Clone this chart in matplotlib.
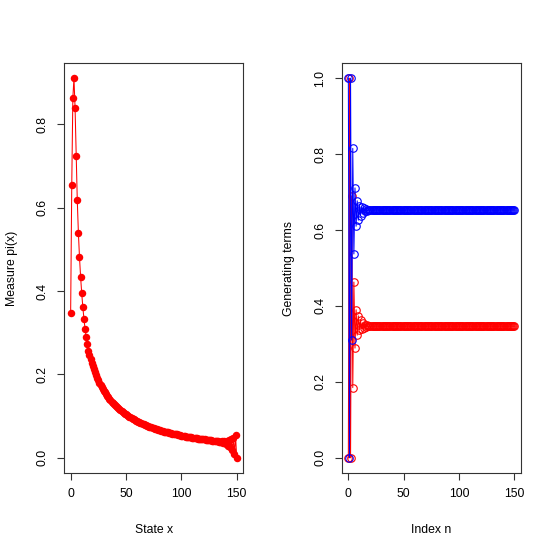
import numpy as np
import matplotlib
matplotlib.use("Agg")
import matplotlib.pyplot as plt

plt.rcParams['font.family'] = ['Liberation Sans', 'DejaVu Sans']

# left panel: measure pi(x) for states 0..150
state = list(range(0, 151))
measure = [
    0.347, 0.654, 0.864, 0.911, 0.840, 0.724, 0.618, 0.540, 0.481, 0.434,
    0.395, 0.362, 0.334, 0.310, 0.290, 0.272, 0.257, 0.247, 0.237, 0.228,
    0.220, 0.212, 0.205, 0.198, 0.192, 0.186, 0.180, 0.175, 0.170, 0.165,
    0.161, 0.157, 0.153, 0.149, 0.145, 0.142, 0.138, 0.135, 0.132, 0.129,
    0.126, 0.124, 0.121, 0.119, 0.116, 0.114, 0.112, 0.110, 0.108, 0.106,
    0.104, 0.102, 0.100, 0.098, 0.097, 0.095, 0.093, 0.092, 0.090, 0.089,
    0.088, 0.086, 0.085, 0.084, 0.083, 0.081, 0.080, 0.079, 0.078, 0.077,
    0.076, 0.075, 0.074, 0.073, 0.072, 0.071, 0.070, 0.069, 0.068, 0.067,
    0.067, 0.066, 0.065, 0.064, 0.063, 0.063, 0.062, 0.061, 0.061, 0.060,
    0.059, 0.059, 0.058, 0.057, 0.057, 0.056, 0.056, 0.055, 0.054, 0.054,
    0.053, 0.053, 0.052, 0.052, 0.051, 0.051, 0.050, 0.050, 0.049, 0.049,
    0.048, 0.048, 0.048, 0.047, 0.047, 0.046, 0.046, 0.045, 0.045, 0.045,
    0.044, 0.044, 0.043, 0.043, 0.043, 0.042, 0.042, 0.042, 0.041, 0.041,
    0.041, 0.040, 0.040, 0.040, 0.039, 0.039, 0.038, 0.040, 0.036, 0.040,
    0.033, 0.041, 0.029, 0.042, 0.025, 0.044, 0.018, 0.048, 0.009, 0.054,
    0.000,
]

# right panel: generating terms, index 0..150
index_n = list(range(0, 151))
terms_blue = [
    1.000, 0.000, 1.000, 0.310, 0.815, 0.537, 0.711, 0.610, 0.677, 0.626,
    0.663, 0.638, 0.660, 0.645, 0.657, 0.649, 0.655, 0.651, 0.654, 0.652,
    0.654, 0.653, 0.653, 0.653, 0.653, 0.653, 0.653, 0.653, 0.653, 0.653,
    0.653, 0.653, 0.653, 0.653, 0.653, 0.653, 0.653, 0.653, 0.653, 0.653,
    0.653, 0.653, 0.653, 0.653, 0.653, 0.653, 0.653, 0.653, 0.653, 0.653,
    0.653, 0.653, 0.653, 0.653, 0.653, 0.653, 0.653, 0.653, 0.653, 0.653,
    0.653, 0.653, 0.653, 0.653, 0.653, 0.653, 0.653, 0.653, 0.653, 0.653,
    0.653, 0.653, 0.653, 0.653, 0.653, 0.653, 0.653, 0.653, 0.653, 0.653,
    0.653, 0.653, 0.653, 0.653, 0.653, 0.653, 0.653, 0.653, 0.653, 0.653,
    0.653, 0.653, 0.653, 0.653, 0.653, 0.653, 0.653, 0.653, 0.653, 0.653,
    0.653, 0.653, 0.653, 0.653, 0.653, 0.653, 0.653, 0.653, 0.653, 0.653,
    0.653, 0.653, 0.653, 0.653, 0.653, 0.653, 0.653, 0.653, 0.653, 0.653,
    0.653, 0.653, 0.653, 0.653, 0.653, 0.653, 0.653, 0.653, 0.653, 0.653,
    0.653, 0.653, 0.653, 0.653, 0.653, 0.653, 0.653, 0.653, 0.653, 0.653,
    0.653, 0.653, 0.653, 0.653, 0.653, 0.653, 0.653, 0.653, 0.653, 0.653,
    0.653,
]
terms_red = [
    0.000, 1.000, 0.000, 0.690, 0.185, 0.463, 0.289, 0.390, 0.323, 0.374,
    0.337, 0.362, 0.340, 0.355, 0.343, 0.351, 0.345, 0.349, 0.346, 0.348,
    0.346, 0.347, 0.347, 0.347, 0.347, 0.347, 0.347, 0.347, 0.347, 0.347,
    0.347, 0.347, 0.347, 0.347, 0.347, 0.347, 0.347, 0.347, 0.347, 0.347,
    0.347, 0.347, 0.347, 0.347, 0.347, 0.347, 0.347, 0.347, 0.347, 0.347,
    0.347, 0.347, 0.347, 0.347, 0.347, 0.347, 0.347, 0.347, 0.347, 0.347,
    0.347, 0.347, 0.347, 0.347, 0.347, 0.347, 0.347, 0.347, 0.347, 0.347,
    0.347, 0.347, 0.347, 0.347, 0.347, 0.347, 0.347, 0.347, 0.347, 0.347,
    0.347, 0.347, 0.347, 0.347, 0.347, 0.347, 0.347, 0.347, 0.347, 0.347,
    0.347, 0.347, 0.347, 0.347, 0.347, 0.347, 0.347, 0.347, 0.347, 0.347,
    0.347, 0.347, 0.347, 0.347, 0.347, 0.347, 0.347, 0.347, 0.347, 0.347,
    0.347, 0.347, 0.347, 0.347, 0.347, 0.347, 0.347, 0.347, 0.347, 0.347,
    0.347, 0.347, 0.347, 0.347, 0.347, 0.347, 0.347, 0.347, 0.347, 0.347,
    0.347, 0.347, 0.347, 0.347, 0.347, 0.347, 0.347, 0.347, 0.347, 0.347,
    0.347, 0.347, 0.347, 0.347, 0.347, 0.347, 0.347, 0.347, 0.347, 0.347,
    0.347,
]

W = 554.0
fig = plt.figure(figsize=(5.54, 5.54), dpi=100)

def panel(x0_px):
    ax = fig.add_axes([x0_px / W, (W - 473) / W, 179.3 / W, 410 / W])
    for s in ax.spines.values():
        s.set_linewidth(0.8)
        s.set_color('#333333')
    ax.tick_params(direction='out', length=5, width=0.8, labelsize=8.8, pad=6,
                   color='#333333')
    return ax

ax1 = panel(64)
ax1.plot(state, measure, color='red', lw=0.75, marker='o', ms=5.4,
         markeredgewidth=0, markerfacecolor='red')
ax1.set_xlim(-6, 156)
lo, hi = min(measure), max(measure)
ax1.set_ylim(lo - 0.04 * (hi - lo), hi + 0.04 * (hi - lo))
ax1.set_xticks([0, 50, 100, 150])
ax1.set_yticks([0.0, 0.2, 0.4, 0.6, 0.8])
ax1.set_yticklabels(['0.0', '0.2', '0.4', '0.6', '0.8'], rotation=90, va='center')

ax2 = panel(341.7)
ax2.plot(index_n, terms_red, color='red', lw=0.75, marker='o', ms=5.4,
         markerfacecolor='none', markeredgewidth=0.8)
ax2.plot(index_n, terms_blue, color='blue', lw=0.75, marker='o', ms=5.4,
         markerfacecolor='none', markeredgewidth=0.8)
ax2.set_xlim(-6, 156)
ax2.set_ylim(-0.04, 1.04)
ax2.set_xticks([0, 50, 100, 150])
ax2.set_yticks([0.0, 0.2, 0.4, 0.6, 0.8, 1.0])
ax2.set_yticklabels(['0.0', '0.2', '0.4', '0.6', '0.8', '1.0'], rotation=90, va='center')

fig.text(153.6 / W, 1 - 530 / W, 'State x', ha='center', va='center', fontsize=8.8)
fig.text(431.3 / W, 1 - 530 / W, 'Index n', ha='center', va='center', fontsize=8.8)
fig.text(12 / W, 1 - 268 / W, 'Measure pi(x)', ha='center', va='center', rotation=90, fontsize=8.8)
fig.text(289 / W, 1 - 268 / W, 'Generating terms', ha='center', va='center', rotation=90, fontsize=8.8)

fig.savefig('out.png', dpi=100)
